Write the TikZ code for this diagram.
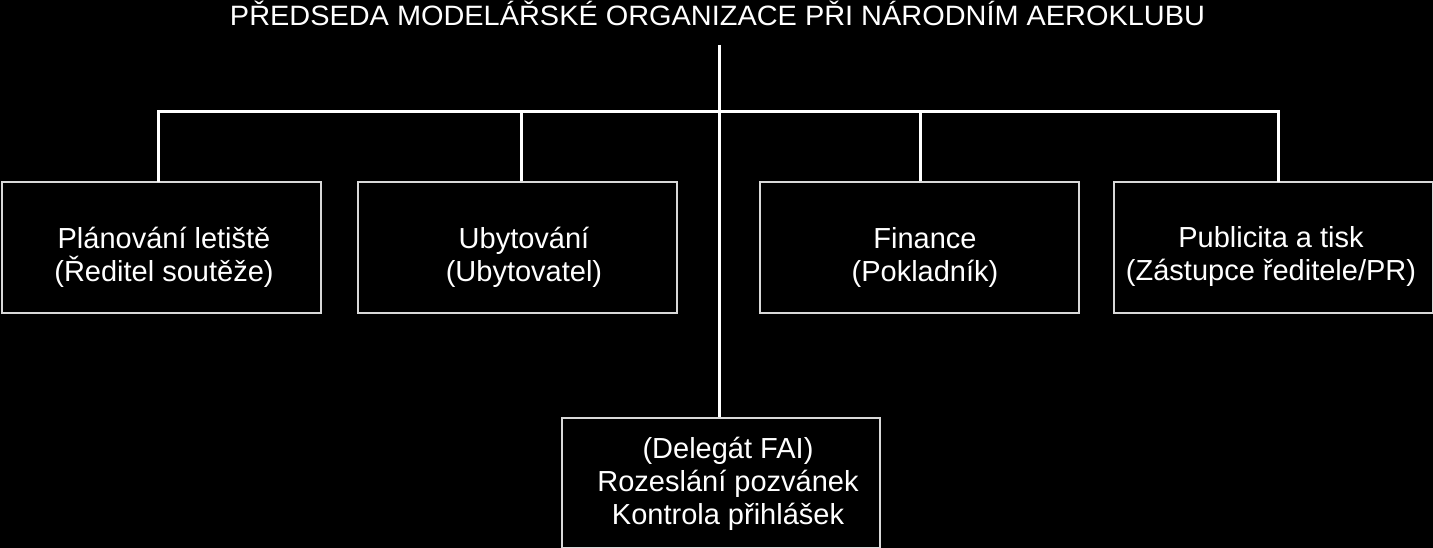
\documentclass[tikz,border=0pt]{standalone}
\usepackage{fontspec}
\usepackage{graphicx}
\setmainfont{Liberation Sans}
\begin{document}
\begin{tikzpicture}[x=1pt,y=-1pt,
  box/.style={draw=boxline, line width=2pt, minimum width=#1, inner sep=0pt},
  box/.default=319pt,
  lbl/.style={text=white, align=center, inner sep=0pt, font=\fontsize{29}{33}\selectfont},
  conn/.style={draw=white, line width=3pt}]
\definecolor{boxline}{HTML}{D9D9D9}
\fill[black] (0,0) rectangle (1433,548);
\useasboundingbox (0,0) rectangle (1433,548);
% title
\node[text=white, anchor=base, inner sep=0pt, font=\fontsize{28}{32}\selectfont] (title) at (717.5,26)
  {\resizebox{975pt}{\height}{PŘEDSEDA MODELÁŘSKÉ ORGANIZACE PŘI NÁRODNÍM AEROKLUBU}};
% boxes
\node[box, minimum height=131pt, anchor=north west] (b1) at (1,181) {};
\node[box, minimum height=131pt, anchor=north west] (b2) at (357,181) {};
\node[box, minimum height=131pt, anchor=north west] (b3) at (759,181) {};
\node[box, minimum height=131pt, anchor=north west] (b4) at (1113,181) {};
\node[box=318pt, minimum height=130pt, anchor=north west] (b5) at (561,417) {};
% labels
\node[lbl] (t1) at (164,257) {Plánování letiště\\(Ředitel soutěže)};
\node[lbl] (t2) at (524,257) {Ubytování\\(Ubytovatel)};
\node[lbl] (t3) at (925,257) {Finance\\(Pokladník)};
\node[lbl] (t4) at (1271,257) {Publicita a tisk\\(Zástupce ředitele/PR)};
\node[lbl] (t5) at (728,484) {(Delegát FAI)\\Rozeslání pozvánek\\Kontrola přihlášek};
% connector coordinates
\coordinate (top) at (719,45);
\coordinate (v1) at (158,112);
\coordinate (v2) at (521,112);
\coordinate (v3) at (920,112);
\coordinate (v4) at (1278,112);
% connectors
\draw[conn] (top) -- (top |- b5.north);
\draw[conn, line cap=rect] (b1.north -| v1) -- (v1) -- (v4) -- (b4.north -| v4);
\draw[conn] (v2) -- (b2.north -| v2);
\draw[conn] (v3) -- (b3.north -| v3);
\end{tikzpicture}
\end{document}
